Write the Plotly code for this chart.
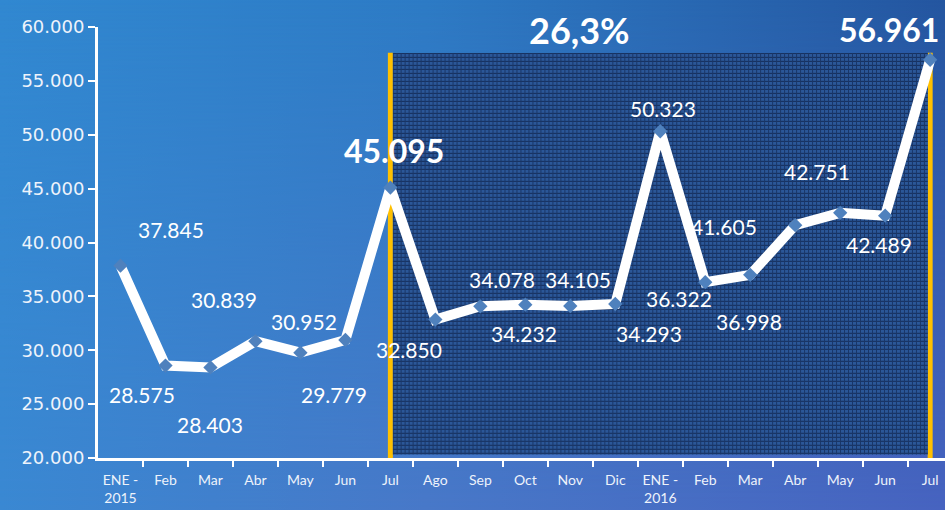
import base64
import plotly.graph_objects as go

# ---- data ----
months = ["ENE -<br>2015", "Feb", "Mar", "Abr", "May", "Jun", "Jul", "Ago", "Sep", "Oct",
          "Nov", "Dic", "ENE -<br>2016", "Feb", "Mar", "Abr", "May", "Jun", "Jul"]
values = [37845, 28575, 28403, 30839, 29779, 30952, 45095, 32850, 34078, 34232,
          34105, 34293, 50323, 36322, 36998, 41605, 42751, 42489, 56961]
value_text = ["37.845", "28.575", "28.403", "30.839", "29.779", "30.952", "45.095", "32.850",
              "34.078", "34.232", "34.105", "34.293", "50.323", "36.322", "36.998", "41.605",
              "42.751", "42.489", "56.961"]
growth_text = "26,3%"
y_ticks = [20000, 25000, 30000, 35000, 40000, 45000, 50000, 55000, 60000]
y_ticktext = ["20.000", "25.000", "30.000", "35.000", "40.000", "45.000", "50.000", "55.000", "60.000"]

# ---- label placement (pixel offsets from each point) ----
label_dx = [51, -23, 0, -31, 34, -41, 4, -26, 22, -1, 8, 34, 3, -26, -1, -71, -23, -6, -41]
label_dy = [36, -29, -57, 42, -42, 18, 37, -30, 27, -29, 27, -30, 23, -16, -47, -1, 41, -29, 30]
bold_idx = {6, 18}

W, H = 945, 510
xs = list(range(len(values)))

bg_svg = f"""<svg xmlns='http://www.w3.org/2000/svg' width='{W}' height='{H}'>
<defs>
<linearGradient id='t' x1='0' y1='0' x2='1' y2='0'>
<stop offset='0' stop-color='#3188d1'/><stop offset='0.45' stop-color='#2d7bc5'/><stop offset='1' stop-color='#2456a0'/></linearGradient>
<linearGradient id='b' x1='0' y1='0' x2='1' y2='0'>
<stop offset='0' stop-color='#3a88d2'/><stop offset='0.45' stop-color='#4878c8'/><stop offset='1' stop-color='#4763c0'/></linearGradient>
<linearGradient id='v' x1='0' y1='0' x2='0' y2='1'>
<stop offset='0' stop-color='white' stop-opacity='0'/><stop offset='1' stop-color='white' stop-opacity='1'/></linearGradient>
<mask id='m'><rect width='{W}' height='{H}' fill='url(#v)'/></mask>
</defs>
<rect width='{W}' height='{H}' fill='url(#t)'/>
<rect width='{W}' height='{H}' fill='url(#b)' mask='url(#m)'/>
</svg>"""

dark_svg = """<svg xmlns='http://www.w3.org/2000/svg' width='536' height='402'>
<defs><pattern id='p' width='4' height='4' patternUnits='userSpaceOnUse'>
<rect width='4' height='4' fill='#2b5798'/><rect width='4' height='1' fill='#142c58'/><rect width='1' height='4' fill='#193668'/>
</pattern></defs>
<rect width='536' height='402' fill='url(#p)'/>
</svg>"""


def uri(svg):
    return "data:image/svg+xml;base64," + base64.b64encode(svg.encode()).decode()


fig = go.Figure()
fig.add_trace(go.Scatter(
    x=xs, y=values, mode="lines+markers",
    line=dict(color="white", width=10),
    marker=dict(symbol="diamond", size=11, color="#4f81bd", line=dict(width=0)),
    cliponaxis=False, hoverinfo="skip"))

annotations = []
for i, (v, t) in enumerate(zip(values, value_text)):
    bold = i in bold_idx
    annotations.append(dict(
        x=i, y=v, xref="x", yref="y", text=t, showarrow=False,
        xshift=label_dx[i], yshift=label_dy[i],
        font=dict(family="Lato", size=32 if bold else 21, color="white",
                  weight="bold" if bold else "normal")))
annotations.append(dict(
    x=10.2, y=59720, xref="x", yref="y", text=growth_text, showarrow=False,
    font=dict(family="Lato", size=36, color="white", weight="bold")))

images = [
    dict(source=uri(bg_svg), xref="paper", yref="paper", x=0, y=1, sizex=1, sizey=1,
         xanchor="left", yanchor="top", sizing="stretch", layer="below"),
    dict(source=uri(dark_svg), xref="x", yref="y", x=6.05, y=57600, sizex=11.9, sizey=37300,
         xanchor="left", yanchor="top", sizing="stretch", layer="below"),
]

shapes = [
    dict(type="line", xref="x", yref="y", x0=6, x1=6, y0=20000, y1=57600,
         line=dict(color="#ffc000", width=5), layer="below"),
    dict(type="line", xref="x", yref="y", x0=18, x1=18, y0=20000, y1=57600,
         line=dict(color="#ffc000", width=5), layer="below"),
]

fig.update_layout(
    width=W, height=H,
    margin=dict(l=0, r=0, t=0, b=0, pad=0, autoexpand=False),
    paper_bgcolor="#3a80cc", plot_bgcolor="rgba(0,0,0,0)",
    showlegend=False,
    images=images, shapes=shapes, annotations=annotations,
    xaxis=dict(domain=[98 / W, 1.0], range=[-0.5, 18.33], showgrid=False, zeroline=False,
               automargin=False,
               tickvals=xs, ticktext=months, ticks="", ticklabelstandoff=7,
               tickfont=dict(family="Lato", size=14, color="#eef3fb"),
               showline=True, linecolor="white", linewidth=3,
               minor=dict(tickvals=[i + 0.5 for i in xs[:-1]], ticks="outside",
                          ticklen=6, tickwidth=2, tickcolor="white")),
    yaxis=dict(domain=[52 / H, 483 / H], range=[20000, 60000], showgrid=False, zeroline=False,
               automargin=False,
               tickvals=y_ticks, ticktext=y_ticktext, ticks="outside", ticklen=7,
               tickwidth=2, tickcolor="white",
               tickfont=dict(family="DejaVu Sans", size=18, color="#eef3fb"),
               showline=True, linecolor="white", linewidth=3),
)

fig.write_html("out.html")
